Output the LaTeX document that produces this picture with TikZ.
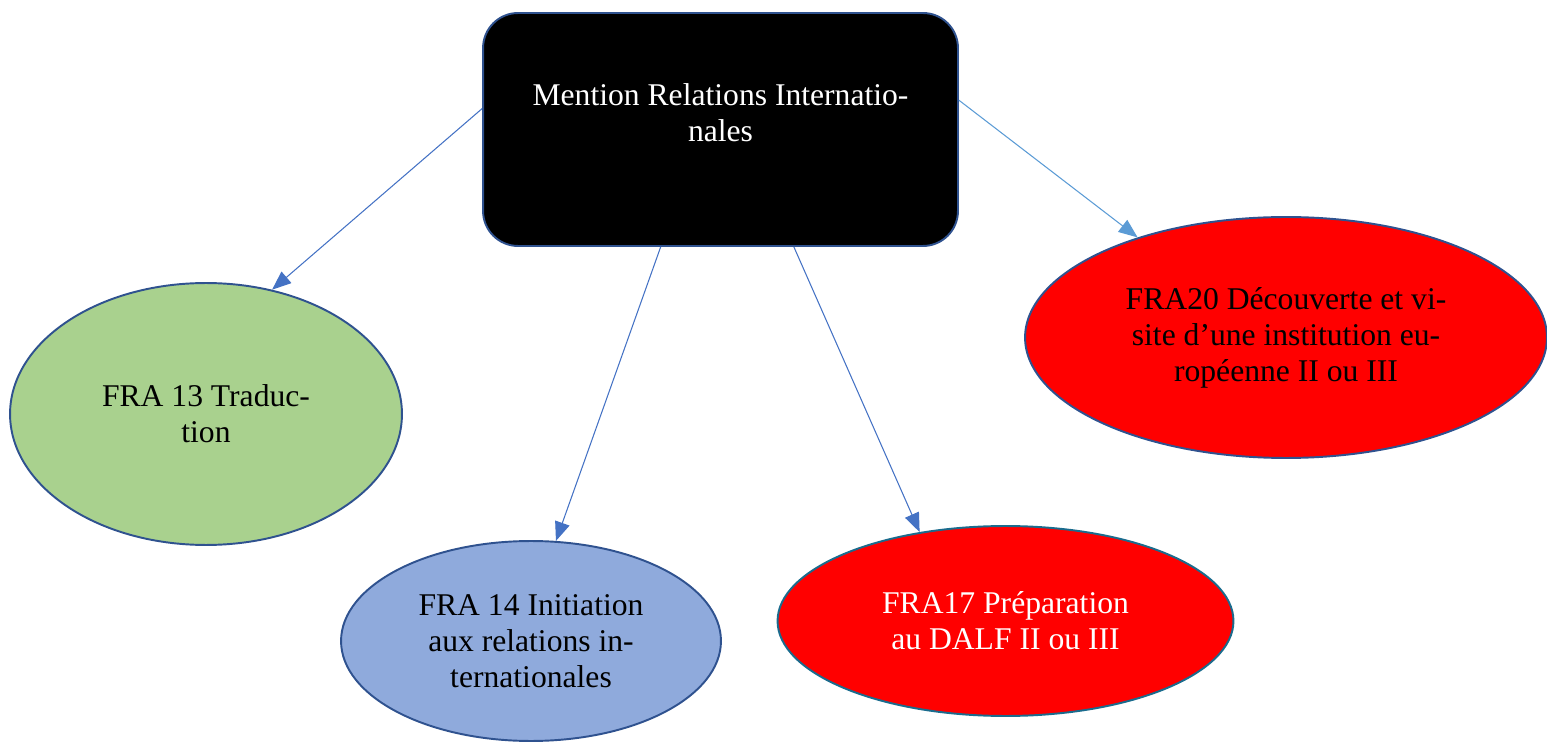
\documentclass[tikz,border=0pt]{standalone}
\usepackage{fontspec}
\setmainfont{Liberation Serif}
\usetikzlibrary{arrows.meta,shapes.geometric}
\definecolor{edgeblue}{HTML}{2F528F}
\definecolor{arrowblue}{HTML}{4472C4}
\definecolor{lightarrow}{HTML}{5B9BD5}
\definecolor{leafgreen}{HTML}{A9D18E}
\definecolor{leafblue}{HTML}{8FAADC}
\definecolor{leafred}{HTML}{FF0000}
\begin{document}
\begin{tikzpicture}[x=0.02cm, y=-0.02cm, >={Triangle[length=0.38cm, width=0.3cm]},
    bubble/.style={ellipse, draw=edgeblue, line width=1.1pt, inner sep=0pt, align=center,
      font=\fontsize{18}{20.5}\selectfont},
    topbox/.style={rectangle, rounded corners=0.7cm, draw=edgeblue, line width=1.1pt, fill=black},
    link/.style={->, draw=arrowblue, line width=0.6pt}]
  \useasboundingbox (0, 0) rectangle (1547, 742);

  \node[topbox, minimum width=9.5cm, minimum height=4.66cm] (mention) at (720.5, 129.5) {};
  \node[align=center, text=white, font=\fontsize{18}{20.5}\selectfont] (mentiontxt) at (720.5, 113)
    {Mention Relations Internatio-\\nales};

  \node[bubble, fill=leafgreen, minimum width=7.84cm, minimum height=5.24cm] (fra13) at (206, 414)
    {FRA 13 Traduc-\\tion};
  \node[bubble, fill=leafblue, minimum width=7.6cm, minimum height=4cm] (fra14) at (531, 641)
    {FRA 14 Initiation\\aux relations in-\\ternationales};
  \node[bubble, fill=leafred, draw=edgeblue!70!cyan!80!black, text=white, minimum width=9.12cm,
    minimum height=3.8cm] (fra17) at (1005.5, 621) {FRA17 Préparation\\au DALF II ou III};
  \node[bubble, fill=leafred, minimum width=10.44cm, minimum height=4.82cm] (fra20) at (1286, 337.5)
    {FRA20 Découverte et vi-\\site d’une institution eu-\\ropéenne II ou III};

  \draw[link] (mention.175.5) -- (fra13.62.4);
  \draw[link] (mention.243.7) -- (fra14.76.5);
  \draw[link] (mention.302.6) -- (fra17.134.2);
  \draw[link, draw=lightarrow] (mention.7.6) -- (fra20.146.4);
\end{tikzpicture}
\end{document}
